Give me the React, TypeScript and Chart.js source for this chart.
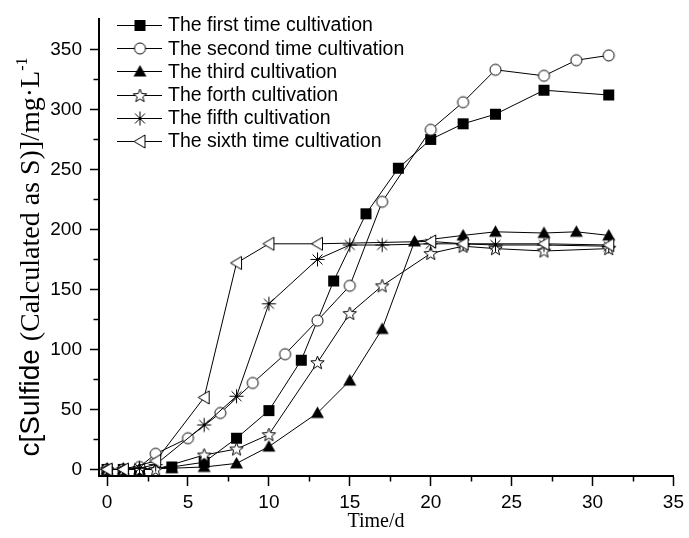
import React, { useEffect, useRef } from 'react';
import { Chart, registerables } from 'chart.js';

Chart.register(...registerables);

const seriesLabels = [
  'The first time cultivation',
  'The second time cultivation',
  'The third cultivation',
  'The forth cultivation',
  'The fifth cultivation',
  'The sixth time cultivation',
];

const days1 = [0, 1, 2, 4, 6, 8, 10, 12, 14, 16, 18, 20, 22, 24, 27, 31];
const sulfide1 = [0, 0, 0, 2, 6, 26, 49, 91, 157, 213, 251, 275, 288, 296, 316, 312];

const days2 = [0, 1, 2, 3, 5, 7, 9, 11, 13, 15, 17, 20, 22, 24, 27, 29, 31];
const sulfide2 = [0, 0, 2, 13, 26, 47, 72, 96, 124, 153, 223, 283, 306, 333, 328, 341, 345];

const days3 = [0, 1, 2, 4, 6, 8, 10, 13, 15, 17, 19, 22, 24, 27, 29, 31];
const sulfide3 = [0, 0, 0, 1, 2, 5, 19, 47, 74, 117, 190, 195, 198, 197, 198, 195];

const days4 = [0, 1, 2, 3, 6, 8, 10, 13, 15, 17, 20, 22, 24, 27, 31];
const sulfide4 = [0, 0, 0, 0, 12, 17, 29, 89, 130, 153, 180, 186, 184, 182, 184];

const days5 = [0, 1, 2, 3, 6, 8, 10, 13, 15, 17, 20, 22, 24, 27, 31];
const sulfide5 = [0, 0, 1, 4, 37, 61, 138, 175, 187, 187, 188, 188, 187, 187, 186];

const days6 = [0, 1, 3, 6, 8, 10, 13, 20, 22, 27, 31];
const sulfide6 = [0, 0, 7, 60, 172, 188, 188, 190, 188, 188, 187];

const xTickValues = [0, 5, 10, 15, 20, 25, 30, 35];
const yTickValues = [0, 50, 100, 150, 200, 250, 300, 350];
const xMinorTicks = [2.5, 7.5, 12.5, 17.5, 22.5, 27.5, 32.5];
const yMinorTicks = [25, 75, 125, 175, 225, 275, 325];

const markerKinds = ['square', 'circle', 'triUp', 'star', 'asterisk', 'triLeft'];

const SANS = '"Liberation Sans", Arial, sans-serif';
const SERIF = '"Liberation Serif", "Times New Roman", serif';

function makeMarker(kind: string): HTMLCanvasElement {
  const s = 17;
  const c = document.createElement('canvas');
  c.width = s;
  c.height = s;
  const g = c.getContext('2d') as CanvasRenderingContext2D;
  const m = s / 2;
  g.lineWidth = 1;
  g.strokeStyle = '#000';
  g.fillStyle = '#000';
  g.beginPath();
  if (kind === 'square') {
    g.fillRect(m - 5.5, m - 5.5, 11, 11);
  } else if (kind === 'circle') {
    g.arc(m, m, 5.5, 0, Math.PI * 2);
    g.fillStyle = '#fff';
    g.fill();
    g.stroke();
  } else if (kind === 'triUp') {
    g.moveTo(m, m - 6.5);
    g.lineTo(m + 6.5, m + 5);
    g.lineTo(m - 6.5, m + 5);
    g.closePath();
    g.fill();
  } else if (kind === 'star') {
    for (let k = 0; k < 10; k++) {
      const r = k % 2 === 0 ? 7 : 3;
      const a = -Math.PI / 2 + (k * Math.PI) / 5;
      const px = m + r * Math.cos(a);
      const py = m + 0.5 + r * Math.sin(a);
      if (k === 0) g.moveTo(px, py);
      else g.lineTo(px, py);
    }
    g.closePath();
    g.fillStyle = '#fff';
    g.fill();
    g.stroke();
  } else if (kind === 'asterisk') {
    for (let k = 0; k < 4; k++) {
      const a = (k * Math.PI) / 4;
      const r = 7;
      g.moveTo(m - r * Math.cos(a), m - r * Math.sin(a));
      g.lineTo(m + r * Math.cos(a), m + r * Math.sin(a));
    }
    g.stroke();
  } else if (kind === 'triLeft') {
    g.moveTo(m - 6, m);
    g.lineTo(m + 5, m - 6.5);
    g.lineTo(m + 5, m + 6.5);
    g.closePath();
    g.fillStyle = '#fff';
    g.fill();
    g.stroke();
  }
  return c;
}

export default function App() {
  const ref = useRef<HTMLCanvasElement | null>(null);

  useEffect(() => {
    if (!ref.current) return;
    const markers = markerKinds.map(makeMarker);
    const allDays = [days1, days2, days3, days4, days5, days6];
    const allVals = [sulfide1, sulfide2, sulfide3, sulfide4, sulfide5, sulfide6];

    const datasets = seriesLabels.map((label, i) => ({
      label,
      data: allDays[i].map((d, j) => ({ x: d, y: allVals[i][j] })),
      borderColor: '#000',
      borderWidth: 1,
      backgroundColor: '#000',
      pointStyle: markers[i],
      pointRadius: 6,
      pointHoverRadius: 6,
      tension: 0,
      fill: false,
      order: 5 - i,
    }));

    const decor = {
      id: 'decor',
      afterDraw(chart: any) {
        const ctx = chart.ctx as CanvasRenderingContext2D;
        const xs = chart.scales.x;
        const ys = chart.scales.y;
        const area = chart.chartArea;
        ctx.save();
        // minor ticks
        ctx.strokeStyle = '#000';
        ctx.lineWidth = 1.5;
        ctx.beginPath();
        yMinorTicks.forEach((v) => {
          const py = Math.round(ys.getPixelForValue(v)) + 0.5;
          ctx.moveTo(area.left - 5.5, py);
          ctx.lineTo(area.left, py);
        });
        xMinorTicks.forEach((v) => {
          const px = Math.round(xs.getPixelForValue(v)) + 0.5;
          ctx.moveTo(px, area.bottom);
          ctx.lineTo(px, area.bottom + 5.5);
        });
        ctx.stroke();

        // legend
        const lx0 = 117;
        const lx1 = 162;
        const lm = 140;
        const tx = 168;
        ctx.font = `19.5px ${SANS}`;
        ctx.fillStyle = '#000';
        ctx.textBaseline = 'middle';
        ctx.textAlign = 'left';
        chart.data.datasets.forEach((ds: any, i: number) => {
          const ly = 25 + i * 23.2;
          ctx.beginPath();
          ctx.lineWidth = 1;
          ctx.moveTo(lx0, Math.round(ly) + 0.5);
          ctx.lineTo(lx1, Math.round(ly) + 0.5);
          ctx.stroke();
          const img = ds.pointStyle as HTMLCanvasElement;
          ctx.drawImage(img, lm - img.width / 2, Math.round(ly) + 0.5 - img.height / 2);
          ctx.fillText(ds.label, tx, ly + 1);
        });

        // x title
        ctx.font = `20px ${SERIF}`;
        ctx.textAlign = 'center';
        ctx.textBaseline = 'middle';
        ctx.fillText('Time/d', 376, 522);

        // y title (mixed fonts)
        const part1 = 'c[Sulfide ';
        const part2 = '(Calculated as S)]/mg·L';
        const part3 = '-1';
        const f1 = `28px ${SANS}`;
        const f2 = `28px ${SERIF}`;
        const f3 = `16px ${SERIF}`;
        ctx.font = f1;
        const w1 = ctx.measureText(part1).width;
        ctx.font = f2;
        const w2 = ctx.measureText(part2).width;
        ctx.font = f3;
        const w3 = ctx.measureText(part3).width;
        const total = w1 + w2 + w3;
        ctx.translate(39, 257);
        ctx.rotate(-Math.PI / 2);
        ctx.textAlign = 'left';
        ctx.textBaseline = 'alphabetic';
        let cx = -total / 2;
        ctx.font = f1;
        ctx.fillText(part1, cx, 0);
        cx += w1;
        ctx.font = f2;
        ctx.fillText(part2, cx, 0);
        cx += w2;
        ctx.font = f3;
        ctx.fillText(part3, cx, -12);
        ctx.restore();
      },
    };

    const chart = new Chart(ref.current, {
      type: 'line',
      data: { datasets },
      plugins: [decor],
      options: {
        responsive: false,
        animation: false,
        layout: { padding: { left: 0, top: 15, right: 12, bottom: 0 } },
        plugins: {
          legend: { display: false },
          tooltip: { enabled: false },
          title: { display: false },
        },
        scales: {
          x: {
            type: 'linear',
            min: -0.5,
            max: 35,
            afterBuildTicks: (s: any) => {
              s.ticks = xTickValues.map((v) => ({ value: v }));
            },
            afterFit: (s: any) => {
              s.height = 62;
            },
            grid: {
              display: true,
              drawOnChartArea: false,
              drawTicks: true,
              tickLength: 10,
              tickWidth: 1.5,
              tickColor: '#000',
              color: '#000',
            },
            border: { display: true, color: '#000', width: 2 },
            ticks: {
              color: '#000',
              font: { family: SANS, size: 19 },
              padding: 5,
              maxRotation: 0,
              autoSkip: false,
            },
          },
          y: {
            type: 'linear',
            min: -5.5,
            max: 375,
            afterBuildTicks: (s: any) => {
              s.ticks = yTickValues.map((v) => ({ value: v }));
            },
            afterFit: (s: any) => {
              s.width = 99;
            },
            grid: {
              display: true,
              drawOnChartArea: false,
              drawTicks: true,
              tickLength: 9,
              tickWidth: 1.5,
              tickColor: '#000',
              color: '#000',
            },
            border: { display: true, color: '#000', width: 2 },
            ticks: {
              color: '#000',
              font: { family: SANS, size: 19 },
              padding: 8,
              autoSkip: false,
            },
          },
        },
      },
    } as any);

    return () => chart.destroy();
  }, []);

  return (
    <div style={{ position: 'absolute', left: 0, top: 0, width: 689, height: 538, background: '#fff' }}>
      <canvas ref={ref} width={689} height={538} style={{ display: 'block' }} />
    </div>
  );
}
